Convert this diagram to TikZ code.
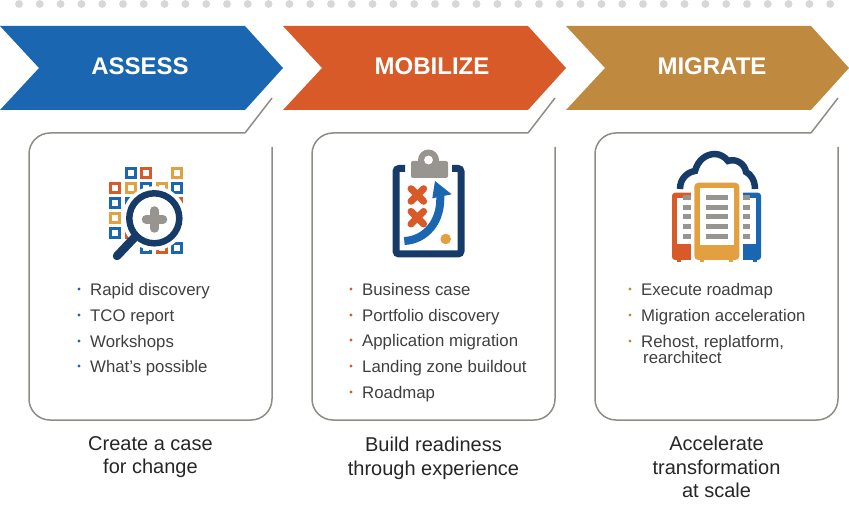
\documentclass[tikz,border=0pt]{standalone}
\usepackage{fontspec}
\setmainfont{Liberation Sans}
\definecolor{cblue}{HTML}{1A66B0}
\definecolor{corange}{HTML}{D85A29}
\definecolor{cgold}{HTML}{BF8A40}
\definecolor{cyel}{HTML}{E3A040}
\definecolor{cnavy}{HTML}{173B68}
\definecolor{cgrey}{HTML}{98948F}
\definecolor{cdot}{HTML}{D6D7D9}
\definecolor{cline}{HTML}{8F8C86}
\definecolor{ctext}{HTML}{3F3F41}
\tikzset{
  chev/.style={fill=#1,draw=none},
  panelbox/.style={draw=cline,line width=1.5pt,rounded corners=21pt},
  tailline/.style={draw=cline,line width=1.5pt},
  titletext/.style={text=white,font=\bfseries\fontsize{24}{28}\selectfont,anchor=center,inner sep=0pt},
  itemtext/.style={text=ctext,font=\fontsize{16.8}{17}\selectfont,anchor=base west,inner sep=0pt},
  bul/.style={fill=#1,circle,inner sep=0pt,minimum size=3.4pt},
  captext/.style={text=black!85,font=\fontsize{20}{23.5}\selectfont,align=center,anchor=north,inner sep=0pt},
  sq/.style={draw=#1,line width=3pt,fill=white,minimum size=9pt,inner sep=0pt,outer sep=0pt},
  plate/.style={fill=cgrey,draw=none},
}
\newcommand{\chevron}[4]{%
  \fill[chev=#2,shift={(#1,0)}] (0,26)--(245,26)--(283,68)--(245,110)--(0,110)--(39,68)--cycle;
  \node[titletext] (t#3) at (#4,66) {#3};
  \draw[panelbox,shift={(#1,0)}] (272,147)--(272,420)--(29,420)--(29,133)--(245,133);
  \draw[tailline,shift={(#1,0)}] (245,133)--(272,98);
}
\newcommand{\sqr}[3]{\node[sq=#3] (s#1#2) at (#1,#2) {};}
\newcommand{\litem}[4]{\node[bul=#1] (b#2#3) at (#2,#3) {}; \node[itemtext] (i#2#3) at (#2+11,#3+6) {#4};}
\begin{document}
\begin{tikzpicture}[x=1pt,y=-1pt]
\useasboundingbox (0,0) rectangle (849,513);
\foreach \i in {0,...,39} \fill[cdot] (19+20.8*\i,4) circle (3.9);
\chevron{0}{cblue}{ASSESS}{140}
\chevron{283}{corange}{MOBILIZE}{432}
\chevron{566}{cgold}{MIGRATE}{712}

% assess icon
\sqr{130.7}{172.7}{cblue}\sqr{146}{172.7}{corange}\sqr{177.3}{172.7}{cyel}
\sqr{114.7}{187.7}{corange}\sqr{130.7}{187.7}{cyel}\sqr{146}{187.7}{cblue}\sqr{161.7}{187.7}{cyel}\sqr{177.3}{187.7}{cblue}
\sqr{114.7}{202.7}{cblue}\sqr{130.7}{202.7}{cblue}\sqr{177.3}{202.7}{corange}
\sqr{114.7}{218.3}{cyel}
\sqr{114.7}{233.3}{cblue}\sqr{130.7}{233.3}{corange}
\sqr{146}{248.3}{cblue}\sqr{161.7}{248.3}{corange}\sqr{177.3}{248.3}{cblue}
\fill[white] (154.3,218.3) circle (32);
\draw[cnavy,line width=8.5pt,line cap=round] (134,238)--(117,256);
\draw[cnavy,line width=6.5pt,fill=white] (154.3,218.3) circle (25);
\draw[cgrey,line width=8.5pt,line cap=round] (154.3,210.5)--(154.3,228.5) (146,219.3)--(163,219.3);

% mobilize icon
\draw[cnavy,line width=7pt,rounded corners=3pt,line cap=butt] (405,168.5)--(396,168.5)--(396,254)--(461,254)--(461,168.5)--(452,168.5);
\fill[plate,rounded corners=2pt] (411,161) rectangle (448,178);
\fill[cgrey] (428.5,160) circle (10.5);
\fill[white] (428.5,160) circle (4.4);
\draw[corange,line width=7pt,line cap=round] (411,188.7)--(423.6,201.3) (423.6,188.7)--(411,201.3) (411,211.4)--(423.6,224) (423.6,211.4)--(411,224);
\draw[cblue,line width=8pt] (404.3,241) .. controls (425,240) and (443,222) .. (440,192);
\fill[cblue] (435,181)--(451.7,194.3)--(432.3,198.3)--cycle;
\fill[cyel] (445.7,239) circle (5.3);

% migrate icon
\draw[cnavy,line width=6.5pt,line cap=butt] (680,189) .. controls (680,178) and (688,172) .. (695,171) .. controls (698,160) and (706,154) .. (715,154) .. controls (720,154) and (725,157) .. (728,161) .. controls (736,158) and (745,164) .. (746,172) .. controls (751,174) and (755,181) .. (755,189);
\fill[corange,rounded corners=3pt] (672,192.7) rectangle (695,260);
\fill[cblue,rounded corners=3pt] (739,192.7) rectangle (761,260);
\fill[white] (677.3,197.7) rectangle (695,244.3);
\fill[white] (739,197.7) rectangle (756,244.3);
\fill[white] (690.7,180) rectangle (742.7,262);
\fill[cyel,rounded corners=4pt] (694.3,182.7) rectangle (739.3,260);
\fill[white] (700,187.7) rectangle (734,245);
\foreach \fx/\fc in {679/corange,755/cblue,702/cyel,731/cyel} \fill[\fc] (\fx-2,259) rectangle (\fx+2,262);
\foreach \y in {197.3,207.3,216.7,226.7,236.3} {
  \fill[plate] (705.7,\y-2.4) rectangle (728.3,\y+2.4);
  \fill[plate] (683.3,\y-2.4) rectangle (690.7,\y+2.4);
  \fill[plate] (742.7,\y-2.4) rectangle (750,\y+2.4);
}

% lists
\litem{cblue}{79}{289}{Rapid discovery}
\litem{cblue}{79}{315}{TCO report}
\litem{cblue}{79}{341}{Workshops}
\litem{cblue}{79}{366}{What’s possible}
\litem{corange}{351}{289}{Business case}
\litem{corange}{351}{315}{Portfolio discovery}
\litem{corange}{351}{340}{Application migration}
\litem{corange}{351}{366}{Landing zone buildout}
\litem{corange}{351}{392}{Roadmap}
\litem{cgold}{630}{289}{Execute roadmap}
\litem{cgold}{630}{315}{Migration acceleration}
\litem{cgold}{630}{341}{Rehost, replatform,}
\node[itemtext] (i3) at (643,363) {rearchitect};

\node[captext] (c1) at (150.5,436) {Create a case\\for change};
\node[captext] (c2) at (433.5,437) {Build readiness\\through experience};
\node[captext] (c3) at (716.5,436) {Accelerate\\transformation\\at scale};
\end{tikzpicture}
\end{document}
